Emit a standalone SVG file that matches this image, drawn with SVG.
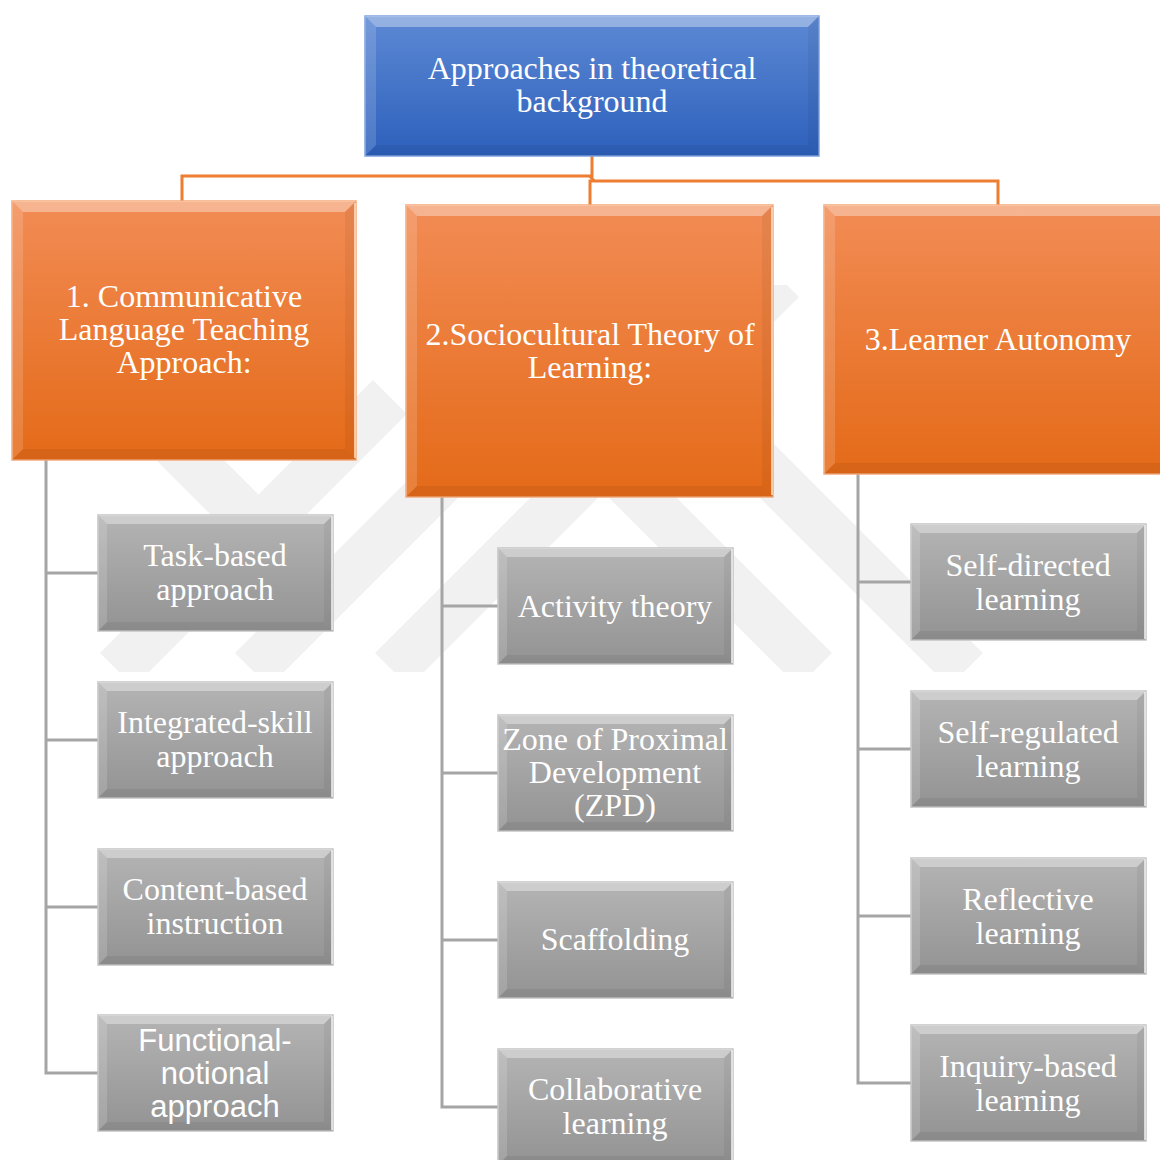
<svg xmlns="http://www.w3.org/2000/svg" xmlns:xlink="http://www.w3.org/1999/xlink" width="1160" height="1160" viewBox="0 0 1160 1160">
<style>
.t{font-family:"Liberation Sans",serif;font-size:32px;fill:#ffffff;text-anchor:middle}
.t{font-family:"Liberation Serif","Times New Roman",serif}
.s{font-family:"Liberation Sans",Arial,sans-serif;font-size:31px;fill:#ffffff;text-anchor:middle}
.oc{fill:none;stroke:#ed7d31;stroke-width:3}
.gc{fill:none;stroke:#a5a5a5;stroke-width:3}
.wm{fill:none;stroke:#f1f1f1;stroke-width:48;stroke-linejoin:miter;stroke-linecap:butt}
.hl{fill:#ffffff;opacity:0.35}
.hl2{fill:#ffffff;opacity:0.15}
.sh{fill:#000000;opacity:0.05}
.sh2{fill:#000000;opacity:0.06}
</style>
<defs>
<linearGradient id="gBlue" x1="0" y1="0" x2="0" y2="1"><stop offset="0" stop-color="#5d89d4"/><stop offset="1" stop-color="#2d60bc"/></linearGradient>
<linearGradient id="gOr" x1="0" y1="0" x2="0" y2="1"><stop offset="0" stop-color="#f28c55"/><stop offset="1" stop-color="#e46a18"/></linearGradient>
<linearGradient id="gGr" x1="0" y1="0" x2="0" y2="1"><stop offset="0" stop-color="#b4b4b4"/><stop offset="1" stop-color="#939393"/></linearGradient>
<clipPath id="wmClip"><rect x="0" y="285" width="1160" height="387"/></clipPath>
<g id="gbox">
<rect x="0" y="0" width="235" height="116" fill="url(#gGr)" stroke="#c4c4c4" stroke-width="1.5"/>
<polygon class="hl" points="0,0 235,0 226,9 9,9"/>
<polygon class="hl2" points="0,0 9,9 9,107 0,116"/>
<polygon class="sh" points="235,0 235,116 226,107 226,9"/>
<polygon class="sh2" points="0,116 235,116 226,107 9,107"/>
<line x1="234" y1="1" x2="234" y2="115" stroke="#f2f2f2" stroke-width="1.5"/>
</g>
</defs>
<rect width="1160" height="1160" fill="#ffffff"/>
<g id="watermark" clip-path="url(#wmClip)">
<polyline class="wm" points="150,420 263,533"/>
<line class="wm" x1="117" y1="670" x2="390" y2="397"/>
<line class="wm" x1="252" y1="670" x2="520" y2="402"/>
<line class="wm" x1="392" y1="670" x2="782" y2="280"/>
<line class="wm" x1="603" y1="458" x2="815" y2="670"/>
<line class="wm" x1="679" y1="383" x2="966" y2="670"/>
</g>
<g id="connectors">
<polyline class="oc" points="592,156 592,176 182,176 182,201"/>
<polyline class="oc" points="590,205 590,181 998,181 998,205"/>
<line class="oc" x1="590" y1="176" x2="594" y2="181"/>
<polyline class="gc" points="46,460 46,1073 98,1073"/>
<line class="gc" x1="46" y1="573" x2="98" y2="573"/>
<line class="gc" x1="46" y1="740" x2="98" y2="740"/>
<line class="gc" x1="46" y1="907" x2="98" y2="907"/>
<polyline class="gc" points="442,497 442,1107 498,1107"/>
<line class="gc" x1="442" y1="606" x2="498" y2="606"/>
<line class="gc" x1="442" y1="773" x2="498" y2="773"/>
<line class="gc" x1="442" y1="940" x2="498" y2="940"/>
<polyline class="gc" points="858,474 858,1083 911,1083"/>
<line class="gc" x1="858" y1="582" x2="911" y2="582"/>
<line class="gc" x1="858" y1="749" x2="911" y2="749"/>
<line class="gc" x1="858" y1="916" x2="911" y2="916"/>
</g>
<g id="root">
<rect x="365" y="16" width="454" height="140" fill="url(#gBlue)" stroke="#7fa3e0" stroke-width="1.5"/>
<polygon class="hl" points="365,16 819,16 808,27 376,27"/>
<polygon class="hl2" points="365,16 376,27 376,145 365,156"/>
<polygon class="sh" points="819,16 819,156 808,145 808,27"/>
<polygon class="sh2" points="365,156 819,156 808,145 376,145"/>
<text class="t" x="592" y="79">Approaches in theoretical</text>
<text class="t" x="592" y="112">background</text>
</g>
<g id="clt">
<rect x="12" y="201" width="344" height="259" fill="url(#gOr)" stroke="#f6a878" stroke-width="1.5"/>
<polygon class="hl" points="12,201 356,201 345,212 23,212"/>
<polygon class="hl2" points="12,201 23,212 23,449 12,460"/>
<polygon class="sh" points="356,201 356,460 345,449 345,212"/>
<polygon class="sh2" points="12,460 356,460 345,449 23,449"/>
<line x1="355" y1="203" x2="355" y2="458" stroke="#fde3c8" stroke-width="1.5"/>
<text class="t" x="184" y="307">1. Communicative</text>
<text class="t" x="184" y="340">Language Teaching</text>
<text class="t" x="184" y="373">Approach:</text>
</g>
<g id="sct">
<rect x="406" y="205" width="367" height="292" fill="url(#gOr)" stroke="#f6a878" stroke-width="1.5"/>
<polygon class="hl" points="406,205 773,205 762,216 417,216"/>
<polygon class="hl2" points="406,205 417,216 417,486 406,497"/>
<polygon class="sh" points="773,205 773,497 762,486 762,216"/>
<polygon class="sh2" points="406,497 773,497 762,486 417,486"/>
<line x1="772" y1="207" x2="772" y2="495" stroke="#fde3c8" stroke-width="1.5"/>
<text class="t" x="590" y="345">2.Sociocultural Theory of</text>
<text class="t" x="590" y="378">Learning:</text>
</g>
<g id="la">
<rect x="824" y="205" width="360" height="269" fill="url(#gOr)" stroke="#f6a878" stroke-width="1.5"/>
<polygon class="hl" points="824,205 1184,205 1173,216 835,216"/>
<polygon class="hl2" points="824,205 835,216 835,463 824,474"/>
<polygon class="sh2" points="824,474 1184,474 1173,463 835,463"/>
<text class="t" x="998" y="350">3.Learner Autonomy</text>
</g>
<g id="task">
<use xlink:href="#gbox" x="98" y="515"/>
<text class="t" x="215" y="566">Task-based</text>
<text class="t" x="215" y="600">approach</text>
</g>
<g id="integrated">
<use xlink:href="#gbox" x="98" y="682"/>
<text class="t" x="215" y="733">Integrated-skill</text>
<text class="t" x="215" y="767">approach</text>
</g>
<g id="content">
<use xlink:href="#gbox" x="98" y="849"/>
<text class="t" x="215" y="900">Content-based</text>
<text class="t" x="215" y="934">instruction</text>
</g>
<g id="functional">
<use xlink:href="#gbox" x="98" y="1015"/>
<text class="s" x="215" y="1051">Functional-</text>
<text class="s" x="215" y="1084">notional</text>
<text class="s" x="215" y="1117">approach</text>
</g>
<g id="activity">
<use xlink:href="#gbox" x="498" y="548"/>
<text class="t" x="615" y="617">Activity theory</text>
</g>
<g id="zpd">
<use xlink:href="#gbox" x="498" y="715"/>
<text class="t" x="615" y="750">Zone of Proximal</text>
<text class="t" x="615" y="783">Development</text>
<text class="t" x="615" y="816">(ZPD)</text>
</g>
<g id="scaffolding">
<use xlink:href="#gbox" x="498" y="882"/>
<text class="t" x="615" y="950">Scaffolding</text>
</g>
<g id="collaborative">
<use xlink:href="#gbox" x="498" y="1049"/>
<text class="t" x="615" y="1100">Collaborative</text>
<text class="t" x="615" y="1134">learning</text>
</g>
<g id="selfdirected">
<use xlink:href="#gbox" x="911" y="524"/>
<text class="t" x="1028" y="576">Self-directed</text>
<text class="t" x="1028" y="610">learning</text>
</g>
<g id="selfregulated">
<use xlink:href="#gbox" x="911" y="691"/>
<text class="t" x="1028" y="743">Self-regulated</text>
<text class="t" x="1028" y="777">learning</text>
</g>
<g id="reflective">
<use xlink:href="#gbox" x="911" y="858"/>
<text class="t" x="1028" y="910">Reflective</text>
<text class="t" x="1028" y="944">learning</text>
</g>
<g id="inquiry">
<use xlink:href="#gbox" x="911" y="1025"/>
<text class="t" x="1028" y="1077">Inquiry-based</text>
<text class="t" x="1028" y="1111">learning</text>
</g>
</svg>
